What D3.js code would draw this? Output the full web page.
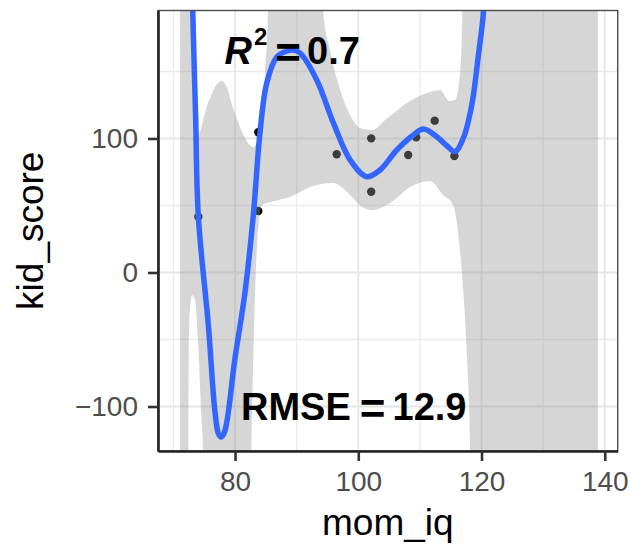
<!DOCTYPE html>
<html>
<head>
<meta charset="utf-8">
<script src="https://cdn.jsdelivr.net/npm/d3@7"></script>
<style>
  body { margin: 0; background: #fff; }
  text { font-family: "Liberation Sans", Arial, sans-serif; }
</style>
</head>
<body>
<div id="chart"></div>
<script>
const width = 631;
const height = 549;

// observed points
const momIq = [74.04, 83.78, 83.78, 96.5, 102.1, 102.1, 108.1, 109.4, 112.4, 115.6];
const kidScore = [41.6, 104.6, 45.9, 88.2, 100.1, 60.3, 87.7, 100.9, 113.3, 86.9];

// fitted curve
const fitX = [72.99, 73.13, 73.59, 74.04, 75.67, 76.75, 77.32, 77.73, 78.30, 80.00, 81.62, 82.97,
  84.06, 85.15, 86.77, 88.39, 89.46, 90.55, 93.26, 95.96, 98.67, 101.38, 103.54, 106.25, 108.94,
  110.57, 112.74, 114.42, 115.71, 117.06, 118.42, 119.50, 120.31, 120.50];
const fitY = [233.2, 195.9, 119.0, 42.2, -39.2, -104.1, -120.5, -122.8, -119.0, -63.8, -14.6, 42.9,
  104.9, 141.4, 160.8, 165.3, 166.0, 163.8, 143.7, 111.6, 84.0, 71.5, 76.5, 91.4, 102.6,
  107.1, 101.3, 94.4, 90.3, 100.4, 125.0, 162.3, 194.4, 233.2];

// confidence band edges
const upperX = [71.04, 73.34, 73.67, 73.99, 74.24, 74.81, 75.45, 76.10, 76.92, 77.84, 78.70, 79.51,
  80.49, 81.62, 82.92, 83.73, 84.38, 84.87, 85.36, 85.84, 93.80, 94.29, 95.42, 97.05, 98.67, 100.29,
  102.24, 104.35, 106.79, 109.22, 111.66, 113.28, 114.74, 115.71, 116.53, 116.85, 117.18, 138.89];
const upperY = [350, 350, 158.6, 121.3, 104.1, 113.8, 124.3, 131.7, 139.9, 142.9, 137.7, 125.0,
  112.3, 100.4, 93.7, 98.9, 118.0, 149.6, 195.9, 350, 350, 195.9, 166.0, 136.2, 117.5, 107.8,
  106.3, 113.8, 122.8, 130.2, 134.7, 136.2, 128.0, 128.7, 149.6, 188.4, 350, 350];
const lowerX = [71.04, 72.31, 72.53, 73.02, 73.51, 73.99, 74.48, 74.89, 75.13, 82.11, 82.60, 83.08,
  83.57, 84.38, 86.49, 88.93, 92.18, 95.91, 98.67, 100.62, 102.24, 105.16, 108.41, 111.66, 113.77,
  115.39, 116.04, 116.85, 117.66, 118.15, 118.47, 138.89];
const lowerY = [-319, -319, -42.9, -16.8, -20.5, -50.4, -102.6, -147.4, -319, -319, -147.4, -42.9,
  20.5, 50.4, 53.4, 56.3, 63.8, 66.8, 57.8, 48.9, 46.6, 51.9, 63.8, 68.3, 57.8,
  50.4, 35.4, -1.9, -63.8, -134.0, -319, -319];

const xTicks = [80, 100, 120, 140];
const xMinor = [70, 90, 110, 130];
const yTicks = [-100, 0, 100];
const yMinor = [-50, 50, 150];

const r2Value = "0.7";
const rmseValue = "12.9";

const panel = { left: 158, right: 617.7, top: 10.5, bottom: 451 };

const x = d3.scaleLinear().domain([67.5, 142.1]).range([panel.left, panel.right]);
const y = d3.scaleLinear().domain([-133.2, 195.5]).range([panel.bottom, panel.top]);

const svg = d3.select("#chart")
  .append("svg")
  .attr("width", width)
  .attr("height", height);

const defs = svg.append("defs");
defs.append("clipPath")
  .attr("id", "panel-clip")
  .append("rect")
  .attr("x", panel.left)
  .attr("y", panel.top)
  .attr("width", panel.right - panel.left)
  .attr("height", panel.bottom - panel.top);

const upper = upperX.map((d, i) => ({ x: d, y: upperY[i] }));
const lower = lowerX.map((d, i) => ({ x: d, y: lowerY[i] }));
const fit = fitX.map((d, i) => ({ x: d, y: fitY[i] }));
const points = momIq.map((d, i) => ({ x: d, y: kidScore[i] }));

// region below the upper edge, used to cut the band
defs.append("clipPath")
  .attr("id", "under-upper")
  .append("path")
  .attr("d", d3.area()
    .x(d => x(d.x))
    .y0(3000)
    .y1(d => y(d.y))
    .curve(d3.curveMonotoneX)(upper));

// panel background + grid
svg.append("rect")
  .attr("x", panel.left)
  .attr("y", panel.top)
  .attr("width", panel.right - panel.left)
  .attr("height", panel.bottom - panel.top)
  .attr("fill", "#fff");

const grid = svg.append("g");
grid.selectAll(".minor-x")
  .data(xMinor)
  .enter()
  .append("line")
  .attr("x1", d => x(d)).attr("x2", d => x(d))
  .attr("y1", panel.top).attr("y2", panel.bottom)
  .attr("stroke", "#ebebeb")
  .attr("stroke-width", 1.3);
grid.selectAll(".minor-y")
  .data(yMinor)
  .enter()
  .append("line")
  .attr("x1", panel.left).attr("x2", panel.right)
  .attr("y1", d => y(d)).attr("y2", d => y(d))
  .attr("stroke", "#ebebeb")
  .attr("stroke-width", 1.3);
grid.selectAll(".major-x")
  .data(xTicks)
  .enter()
  .append("line")
  .attr("x1", d => x(d)).attr("x2", d => x(d))
  .attr("y1", panel.top).attr("y2", panel.bottom)
  .attr("stroke", "#e6e6e6")
  .attr("stroke-width", 1.8);
grid.selectAll(".major-y")
  .data(yTicks)
  .enter()
  .append("line")
  .attr("x1", panel.left).attr("x2", panel.right)
  .attr("y1", d => y(d)).attr("y2", d => y(d))
  .attr("stroke", "#e6e6e6")
  .attr("stroke-width", 1.8);

const plot = svg.append("g").attr("clip-path", "url(#panel-clip)");

plot.selectAll(".dot")
  .data(points)
  .enter()
  .append("circle")
  .attr("class", "dot")
  .attr("cx", d => x(d.x))
  .attr("cy", d => y(d.y))
  .attr("r", 4.2)
  .attr("fill", "#000");

// band: above the lower edge, clipped to below the upper edge
plot.append("path")
  .attr("d", d3.area()
    .x(d => x(d.x))
    .y0(-3000)
    .y1(d => y(d.y))
    .curve(d3.curveMonotoneX)(lower))
  .attr("clip-path", "url(#under-upper)")
  .attr("fill", "#999999")
  .attr("fill-opacity", 0.4);

plot.append("path")
  .datum(fit)
  .attr("fill", "none")
  .attr("stroke", "#3366FF")
  .attr("stroke-width", 5.5)
  .attr("stroke-linejoin", "round")
  .attr("d", d3.line()
    .x(d => x(d.x))
    .y(d => y(d.y))
    .curve(d3.curveCatmullRom.alpha(0.5)));

// annotations
const r2 = svg.append("text")
  .attr("x", x(78.3))
  .attr("y", y(155.6))
  .attr("font-size", 38)
  .attr("font-weight", "bold")
  .attr("fill", "#000");
r2.append("tspan").attr("font-style", "italic").text("R");
r2.append("tspan").attr("font-size", 24).attr("dx", 2).attr("dy", -19).text("2");
r2.append("tspan").attr("font-size", 44).attr("dx", 8).attr("dy", 23).text("=");
r2.append("tspan").attr("dx", 6).attr("dy", -4).text(r2Value);

const rmse = svg.append("text")
  .attr("x", x(80.97))
  .attr("y", y(-110))
  .attr("font-size", 38)
  .attr("font-weight", "bold")
  .attr("fill", "#000");
rmse.append("tspan").text("RMSE");
rmse.append("tspan").attr("font-size", 44).attr("dx", 9).attr("dy", 4).text("=");
rmse.append("tspan").attr("dx", 7).attr("dy", -4).text(rmseValue);

// panel border and axes
svg.append("rect")
  .attr("x", panel.left)
  .attr("y", panel.top)
  .attr("width", panel.right - panel.left)
  .attr("height", panel.bottom - panel.top)
  .attr("fill", "none")
  .attr("stroke", "#4d4d4d")
  .attr("stroke-width", 1.4);

const xAxis = svg.append("g")
  .attr("transform", `translate(0,${panel.bottom})`)
  .call(d3.axisBottom(x).tickValues(xTicks).tickSize(10).tickPadding(6).tickSizeOuter(0));
const yAxis = svg.append("g")
  .attr("transform", `translate(${panel.left},0)`)
  .call(d3.axisLeft(y).tickValues(yTicks).tickSize(10).tickPadding(10).tickSizeOuter(0)
    .tickFormat(d => d < 0 ? "\u2212" + Math.abs(d) : d));

[xAxis, yAxis].forEach(a => {
  a.select(".domain").attr("stroke", "#222").attr("stroke-width", 2.6);
  a.selectAll(".tick line").attr("stroke", "#333").attr("stroke-width", 2.6);
  a.selectAll(".tick text")
    .attr("fill", "#4d4d4d")
    .style("font-size", "28px")
    .style("font-family", "'Liberation Sans', Arial, sans-serif");
});
xAxis.selectAll(".tick text").attr("dy", "0.71em").attr("y", 20);

svg.append("text")
  .attr("x", (panel.left + panel.right) / 2)
  .attr("y", 535)
  .attr("text-anchor", "middle")
  .attr("font-size", 37)
  .attr("fill", "#000")
  .text("mom_iq");

svg.append("text")
  .attr("transform", `translate(43,${(panel.top + panel.bottom) / 2}) rotate(-90)`)
  .attr("text-anchor", "middle")
  .attr("font-size", 37)
  .attr("fill", "#000")
  .text("kid_score");
</script>
</body>
</html>
